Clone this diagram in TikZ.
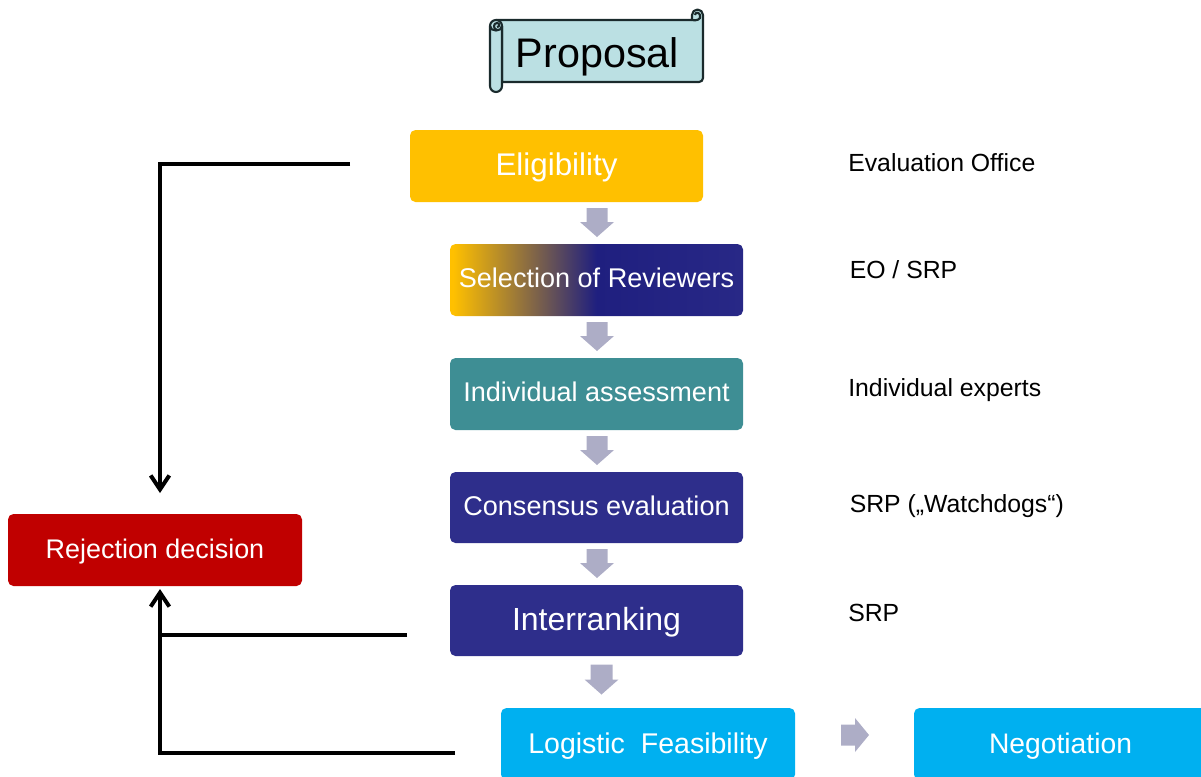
\documentclass[tikz,border=0pt]{standalone}
\usepackage{fontspec}
\setmainfont{Liberation Sans}
\usetikzlibrary{arrows.meta}
\definecolor{cYellow}{HTML}{FFC000}
\definecolor{cNavy}{HTML}{2E2E8B}
\definecolor{cDeep}{HTML}{1F1F7F}
\definecolor{cTeal}{HTML}{3E8E94}
\definecolor{cRed}{HTML}{C00000}
\definecolor{cCyan}{HTML}{00B0F0}
\definecolor{cArrow}{HTML}{ADADC6}
\definecolor{cScroll}{HTML}{BBE0E3}
\definecolor{cScrollLine}{HTML}{1A2A2C}
\pgfdeclarehorizontalshading{yellowNavy}{100bp}{
  color(0bp)=(cYellow); color(25.5bp)=(cYellow);
  color(50bp)=(cDeep); color(75bp)=(cNavy!60!cDeep); color(100bp)=(cNavy)}
\tikzset{
  x=0.75pt,y=-0.75pt,
  boxnode/.style={rounded corners=4.1pt,inner sep=0,text=white,align=center,
    minimum width=219.75pt,minimum height=54pt},
  widebox/.style={boxnode,minimum width=220.5pt},
  baseoffset/.style={text height=1.5pt*#1,text depth=0pt},
  sidelabel/.style={anchor=west,inner sep=0,text=black,font=\fontsize{18.6pt}{22pt}\selectfont},
  feedback/.style={line width=3pt,draw=black},
  feedtip/.style={-{Straight Barb[length=10.5pt,width=14pt,line width=3pt]}},
  downarrow/.pic={\fill[cArrow] (-10.5,0) -- (10.5,0) -- (10.5,14) -- (17,14) -- (0,29) -- (-17,14) -- (-10.5,14) -- cycle;},
  rightarrow/.pic={\fill[cArrow] (0,-10.5) -- (14,-10.5) -- (14,-17) -- (28,0) -- (14,17) -- (14,10.5) -- (0,10.5) -- cycle;},
  bigdownarrow/.pic={\fill[cArrow] (-11,0) -- (11,0) -- (11,15) -- (17,15) -- (0,30) -- (-17,15) -- (-11,15) -- cycle;},
}
\begin{document}
\begin{tikzpicture}
\useasboundingbox (0,0) rectangle (1201,776);
\clip (0,0) rectangle (1201,776);

% scroll
\begin{scope}[draw=cScrollLine,line width=1.6pt,fill=cScroll,line join=round]
\filldraw (496,20) -- (692,20) -- (692,15) arc[start angle=180,end angle=360,radius=5.5]
  -- (703,78) arc[start angle=0,end angle=90,radius=4] -- (502,82) -- (502,26) -- cycle;
\draw (692,20) .. controls (695,21) and (702,20) .. (700,15) .. controls (699,12) and (695,12) .. (695,15);
\filldraw (490,26) arc[start angle=180,end angle=360,radius=6]
  -- (502,86) arc[start angle=0,end angle=180,radius=6] -- cycle;
\draw (490,26) .. controls (490,32) and (502,32) .. (502,26);
\draw (497,30) .. controls (493,29) and (493,23) .. (497,23) .. controls (500,23) and (500,27) .. (497,27);
\end{scope}
\node[inner sep=0,text=black,font=\fontsize{31pt}{36pt}\selectfont] (proposal) at (597.5,57) {Proposal};

% boxes
\node[boxnode,fill=cYellow,baseoffset=9,font=\fontsize{23.5pt}{28pt}\selectfont] (elig) at (556.5,166) {Eligibility};
\node[boxnode,shading=yellowNavy,baseoffset=7.9,font=\fontsize{20.3pt}{24pt}\selectfont] (sel) at (596.5,280) {Selection of Reviewers};
\node[boxnode,fill=cTeal,baseoffset=7.2,font=\fontsize{20.3pt}{24pt}\selectfont] (ind) at (596.5,394) {Individual assessment};
\node[boxnode,fill=cNavy,minimum height=53.25pt,baseoffset=7.9,font=\fontsize{20.3pt}{24pt}\selectfont] (cons) at (596.5,507.5) {Consensus evaluation};
\node[boxnode,fill=cNavy,minimum height=53.25pt,baseoffset=10.3,font=\fontsize{24pt}{28pt}\selectfont] (inter) at (596.5,620.5) {Interranking};
\node[widebox,fill=cCyan,baseoffset=9.4,font=\fontsize{21.4pt}{25pt}\selectfont] (log) at (648,744) {Logistic\ \ Feasibility};
\node[boxnode,fill=cCyan,baseoffset=9.3,font=\fontsize{21.2pt}{25pt}\selectfont] (neg) at (1060.5,744) {Negotiation};
\node[widebox,fill=cRed,baseoffset=8.2,font=\fontsize{20.2pt}{24pt}\selectfont] (rej) at (155,550) {Rejection decision};

% block arrows
\path (597,208) pic {downarrow};
\path (597,322) pic {downarrow};
\path (597,436) pic {downarrow};
\path (597,549) pic {downarrow};
\path (601.5,664.5) pic {bigdownarrow};
\path (841,735) pic {rightarrow};

% side labels
\node[sidelabel] (l1) at (848,163) {Evaluation Office};
\node[sidelabel] (l2) at (849.5,270) {EO / SRP};
\node[sidelabel] (l3) at (848,390) {Individual experts};
\node[sidelabel] (l4) at (849.5,506.5) {SRP („Watchdogs“)};
\node[sidelabel] (l5) at (848,613) {SRP};

% feedback connectors
\coordinate (eligEnd) at (350,163.5);
\coordinate (rejTop) at (160,493);
\coordinate (rejBottom) at (160,589);
\coordinate (interEnd) at (407,634.5);
\coordinate (logEnd) at (455,752.5);
\coordinate (eligCorner) at (160,163.5);
\coordinate (interJoin) at (160,634.5);
\coordinate (logCorner) at (160,752.5);
\draw[feedback,feedtip,line join=miter] (eligEnd) -- (eligCorner) -- (rejTop);
\draw[feedback] (interEnd) -- (interJoin);
\draw[feedback,feedtip,line join=miter] (logEnd) -- (logCorner) -- (rejBottom);
\end{tikzpicture}
\end{document}
